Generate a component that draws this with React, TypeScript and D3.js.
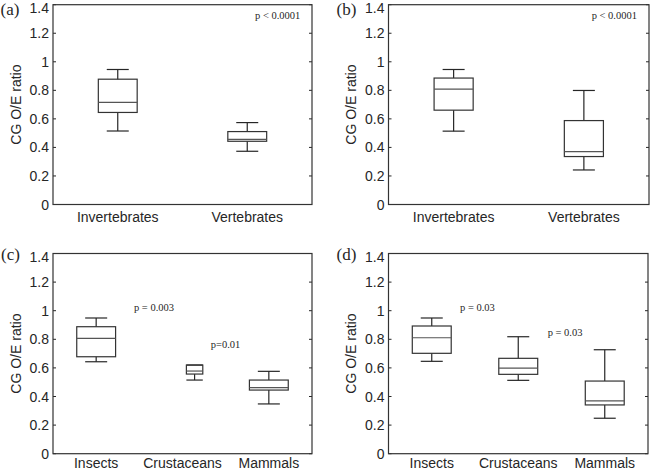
import React from "react";
import * as d3 from "d3";

// ---- data ----
const panelLabels = ["(a)", "(b)", "(c)", "(d)"];
const catsAB = ["Invertebrates", "Vertebrates"];
const catsCD = ["Insects", "Crustaceans", "Mammals"];
const yTicks = [0, 0.2, 0.4, 0.6, 0.8, 1, 1.2, 1.4];

// [lower whisker, q1, median, q3, upper whisker]
const boxesA = [
  [0.515, 0.645, 0.715, 0.878, 0.946],
  [0.373, 0.443, 0.457, 0.511, 0.574],
];
const boxesB = [
  [0.514, 0.661, 0.808, 0.886, 0.946],
  [0.242, 0.336, 0.371, 0.588, 0.799],
];
const boxesC = [
  [0.643, 0.678, 0.807, 0.888, 0.949],
  [0.515, 0.557, 0.578, 0.62, 0.62],
  [0.348, 0.445, 0.462, 0.515, 0.576],
];
const boxesD = [
  [0.646, 0.702, 0.811, 0.893, 0.949],
  [0.513, 0.555, 0.599, 0.667, 0.818],
  [0.248, 0.341, 0.369, 0.508, 0.727],
];
// box positions along x (category units)
const posA = [1, 2];
const posB = [1, 2];
const posC = [1, 2.14, 3];
const posD = [1, 2, 3];
const widthsA = [0.3, 0.3];
const widthsB = [0.3, 0.3];
const widthsC = [0.45, 0.19, 0.45];
const widthsD = [0.45, 0.45, 0.45];

// p-value annotations: [text, x (category units), y (value)]
const notesA: [string, number, number][] = [["p < 0.0001", 2.06, 1.323]];
const notesB: [string, number, number][] = [["p < 0.0001", 2.06, 1.323]];
const notesC: [string, number, number][] = [
  ["p = 0.003", 1.438, 1.024],
  ["p=0.01", 2.327, 0.76],
];
const notesD: [string, number, number][] = [
  ["p = 0.03", 1.327, 1.021],
  ["p = 0.03", 2.34, 0.849],
];

const sans = "'Liberation Sans', Arial, sans-serif";
const serif = "'Liberation Serif', 'Times New Roman', serif";
const ink = "#262626";

type PanelProps = {
  label: string;
  cats: string[];
  boxes: number[][];
  pos: number[];
  widths: number[];
  notes: [string, number, number][];
  left: number;
  right: number;
  top: number;
  bottom: number;
  labelX: number;
  labelY: number;
  yLabelX: number;
  catDy: number;
};

function Panel(p: PanelProps) {
  const x = d3.scaleLinear().domain([0.5, p.cats.length + 0.5]).range([p.left, p.right]);
  const y = d3.scaleLinear().domain([0, 1.4]).range([p.bottom, p.top]);
  const midY = (p.top + p.bottom) / 2;
  return (
    <g>
      <text x={p.labelX} y={p.labelY} fontFamily={serif} fontSize={17} fill={ink}>
        {p.label}
      </text>
      <text
        transform={`translate(${p.yLabelX},${midY}) rotate(-90)`}
        textAnchor="middle"
        fontFamily={sans}
        fontSize={14}
        fill={ink}
      >
        CG O/E ratio
      </text>
      {yTicks.map((t) => (
        <g key={t}>
          <line x1={p.left} x2={p.left + 3} y1={y(t)} y2={y(t)} stroke={ink} strokeWidth={1} />
          <line x1={p.right - 3} x2={p.right} y1={y(t)} y2={y(t)} stroke={ink} strokeWidth={1} />
          <text
            x={p.left - 4}
            y={Math.max(y(t), y(1.4) + 3)}
            dy="0.36em"
            textAnchor="end"
            fontFamily={sans}
            fontSize={14}
            fill={ink}
          >
            {d3.format("~g")(t)}
          </text>
        </g>
      ))}
      <rect
        x={p.left}
        y={p.top}
        width={p.right - p.left}
        height={p.bottom - p.top}
        fill="none"
        stroke="#333"
        strokeWidth={1.2}
      />
      {p.cats.map((c, i) => (
        <text
          key={c}
          x={x(i + 1)}
          y={p.bottom + p.catDy}
          textAnchor="middle"
          fontFamily={sans}
          fontSize={14}
          fill={ink}
        >
          {c}
        </text>
      ))}
      {p.boxes.map((b, i) => {
        const cx = x(p.pos[i]);
        const hw = (x(p.widths[i]) - x(0)) / 2;
        const cap = Math.min(11, hw);
        const [lo, q1, med, q3, hi] = b;
        return (
          <g key={i} fill="none" strokeWidth={1.2}>
            <line x1={cx} x2={cx} y1={y(q3)} y2={y(hi)} stroke={ink} />
            <line x1={cx} x2={cx} y1={y(q1)} y2={y(lo)} stroke={ink} />
            <line x1={cx - cap} x2={cx + cap} y1={y(hi)} y2={y(hi)} stroke={ink} />
            <line x1={cx - cap} x2={cx + cap} y1={y(lo)} y2={y(lo)} stroke={ink} />
            <rect x={cx - hw} y={y(q3)} width={hw * 2} height={y(q1) - y(q3)} stroke="#333" />
            <line x1={cx - hw} x2={cx + hw} y1={y(med)} y2={y(med)} stroke="#555" />
          </g>
        );
      })}
      {p.notes.map(([t, nx, ny], i) => (
        <text key={i} x={x(nx)} y={y(ny)} dy="0.33em" fontFamily={serif} fontSize={10.5} fill={ink}>
          {t}
        </text>
      ))}
    </g>
  );
}

export default function App() {
  return (
    <svg
      width={650}
      height={471}
      style={{ position: "absolute", left: 0, top: 0, background: "#fff" }}
    >
      <rect width={650} height={471} fill="#fff" />
      <Panel label={panelLabels[0]} cats={catsAB} boxes={boxesA} pos={posA} widths={widthsA} notes={notesA}
        left={53} right={312} top={4.7} bottom={204.5} labelX={0.5} labelY={14.5} yLabelX={21} catDy={17.5} />
      <Panel label={panelLabels[1]} cats={catsAB} boxes={boxesB} pos={posB} widths={widthsB} notes={notesB}
        left={388.5} right={649} top={4.7} bottom={204.5} labelX={336.5} labelY={14.5} yLabelX={356} catDy={17.5} />
      <Panel label={panelLabels[2]} cats={catsCD} boxes={boxesC} pos={posC} widths={widthsC} notes={notesC}
        left={53} right={312} top={253.5} bottom={453.7} labelX={1} labelY={259.5} yLabelX={21} catDy={14} />
      <Panel label={panelLabels[3]} cats={catsCD} boxes={boxesD} pos={posD} widths={widthsD} notes={notesD}
        left={388.5} right={648} top={253.5} bottom={453.7} labelX={336.5} labelY={259.5} yLabelX={356} catDy={14} />
    </svg>
  );
}
